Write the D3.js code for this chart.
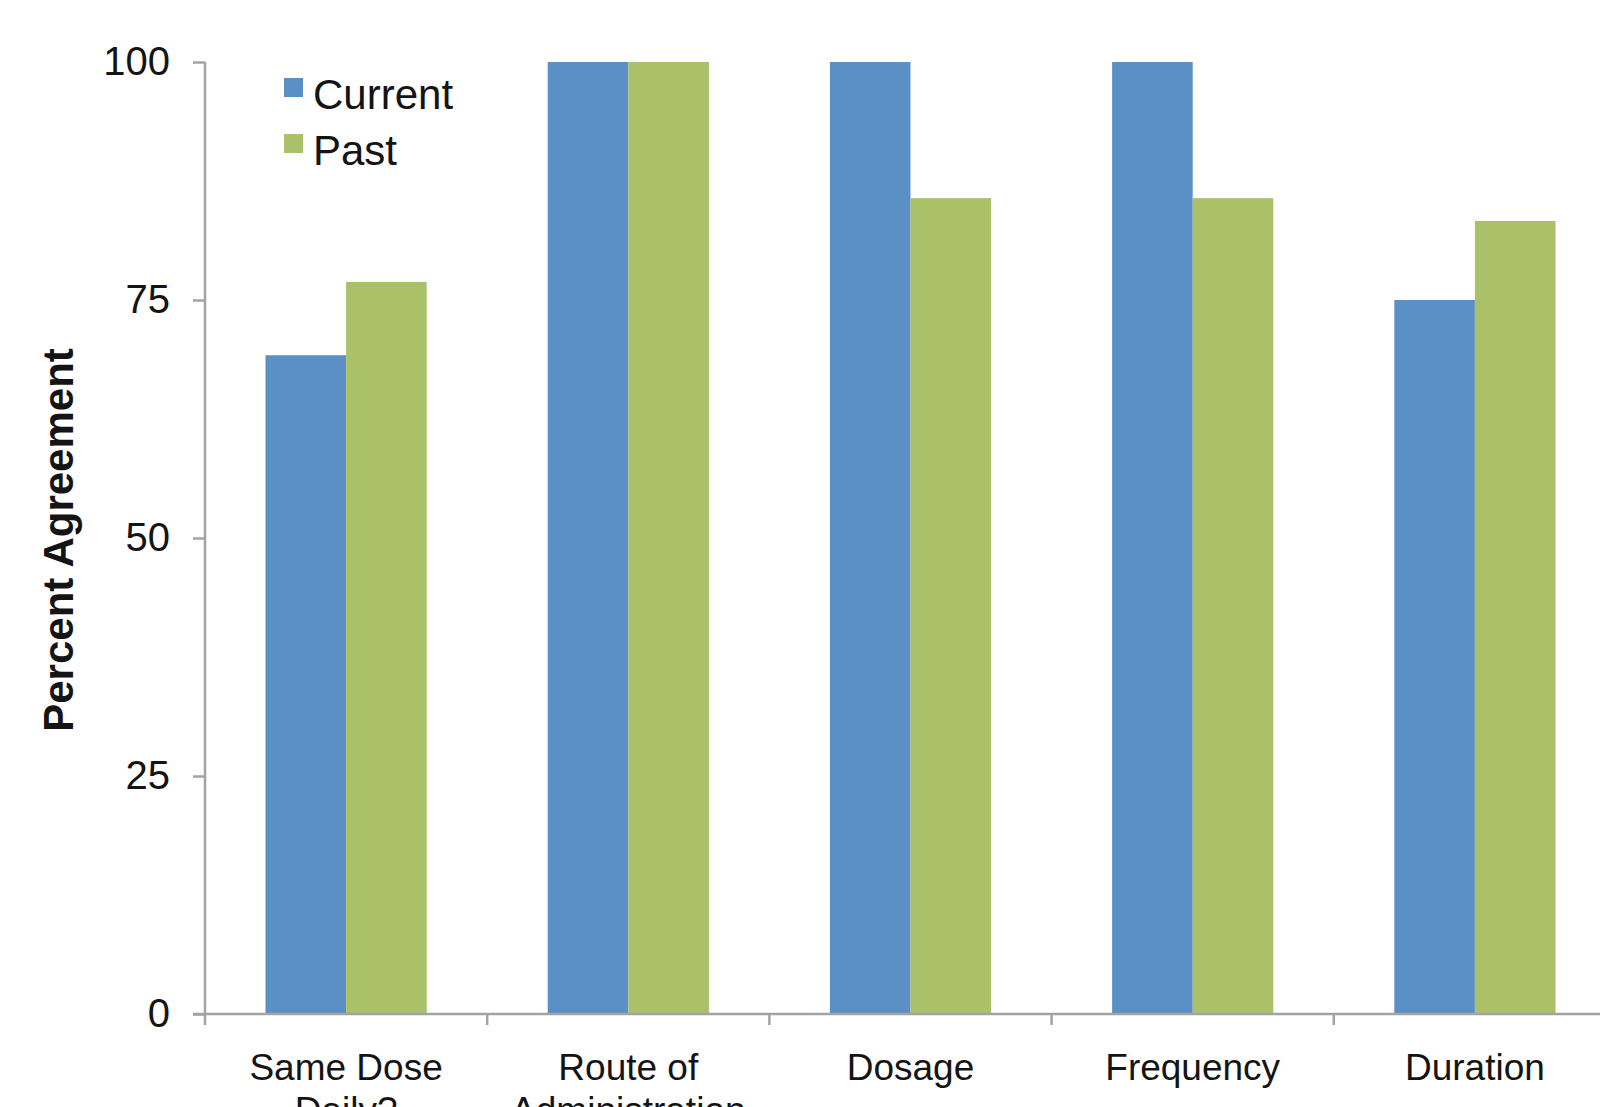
<!DOCTYPE html>
<html>
<head>
<meta charset="utf-8">
<script src="https://cdn.jsdelivr.net/npm/d3@7"></script>
<style>
  html, body { margin: 0; padding: 0; background: #fff; }
  svg { display: block; }
  text { font-family: "Liberation Sans", Arial, Helvetica, sans-serif; fill: #141414; }
</style>
</head>
<body>
<svg id="chart" width="1600" height="1107"></svg>
<script>
// Categories (multi-line labels) and agreement percentages per series
const categories = ["Same Dose Daily?", "Route of Administration", "Dosage", "Frequency", "Duration"];
const categoryLines = [["Same Dose", "Daily?"], ["Route of", "Administration"], ["Dosage"], ["Frequency"], ["Duration"]];
const seriesNames = ["Current", "Past"];
const currentValues = [69.2, 100, 100, 100, 75];
const pastValues = [76.9, 100, 85.7, 85.7, 83.3];
const yTicks = [0, 25, 50, 75, 100];
const colors = { Current: "#5b90c6", Past: "#aac16a" };

const rows = categories.map((c, i) => ({
  category: c,
  lines: categoryLines[i],
  values: [
    { series: "Current", value: currentValues[i] },
    { series: "Past", value: pastValues[i] }
  ]
}));

const svg = d3.select("#chart");
const axisX = 205, plotTop = 62, plotBottom = 1014;
const step = 282.2;
const axisColor = "#a3a3a3";

const y = d3.scaleLinear().domain([0, 100]).range([plotBottom, plotTop]);

const innerPad = 121 / step;
const x0 = d3.scaleBand()
  .domain(categories)
  .range([axisX, axisX + step * categories.length])
  .paddingInner(innerPad)
  .paddingOuter(innerPad / 2);

const x1 = d3.scaleBand()
  .domain(seriesNames)
  .range([0, x0.bandwidth()])
  .padding(0);

// Bars
const groups = svg.append("g")
  .selectAll("g")
  .data(rows)
  .join("g")
  .attr("transform", d => `translate(${x0(d.category)},0)`);

groups.selectAll("rect")
  .data(d => d.values)
  .join("rect")
  .attr("x", d => x1(d.series))
  .attr("y", d => y(d.value))
  .attr("width", x1.bandwidth())
  .attr("height", d => y(0) - y(d.value))
  .attr("fill", d => colors[d.series]);

// Y axis
const yAxis = svg.append("g")
  .attr("transform", `translate(${axisX},0)`)
  .call(d3.axisLeft(y).tickValues(yTicks).tickSize(12).tickPadding(23).tickFormat(d3.format("d")));
yAxis.select(".domain").attr("stroke", axisColor).attr("stroke-width", 2.5).attr("d", `M0,${plotTop}V${plotBottom}`);
yAxis.selectAll(".tick line").attr("stroke", axisColor).attr("stroke-width", 2.5);
yAxis.selectAll(".tick text")
  .attr("font-size", 40)
  .attr("font-family", "Liberation Sans, Arial, sans-serif")
  .attr("fill", "#141414");

// X axis baseline
svg.append("line")
  .attr("x1", axisX - 12).attr("x2", 1600)
  .attr("y1", y(0)).attr("y2", y(0))
  .attr("stroke", axisColor).attr("stroke-width", 2.5);

// Category boundary ticks
const gap = (x0.step() - x0.bandwidth()) / 2;
svg.append("g")
  .selectAll("line")
  .data(categories)
  .join("line")
  .attr("x1", d => x0(d) - gap).attr("x2", d => x0(d) - gap)
  .attr("y1", y(0)).attr("y2", y(0) + 11)
  .attr("stroke", axisColor).attr("stroke-width", 2.5);

// Category labels (second lines run past the bottom edge)
const labels = svg.append("g")
  .selectAll("text")
  .data(rows)
  .join("text")
  .attr("text-anchor", "middle")
  .attr("font-size", 37)
  .attr("x", d => x0(d.category) + x0.bandwidth() / 2)
  .attr("y", y(0) + 66);
labels.selectAll("tspan")
  .data(d => d.lines.map(l => ({ l, x: x0(d.category) + x0.bandwidth() / 2 })))
  .join("tspan")
  .attr("x", d => d.x)
  .attr("dy", (d, i) => i === 0 ? 0 : 43)
  .text(d => d.l);

// Y axis title
svg.append("text")
  .attr("transform", `translate(73,540) rotate(-90)`)
  .attr("text-anchor", "middle")
  .attr("font-size", 42)
  .attr("font-weight", "bold")
  .text("Percent Agreement");

// Legend
const legend = svg.append("g")
  .selectAll("g")
  .data(seriesNames)
  .join("g")
  .attr("transform", (d, i) => `translate(284,${78 + i * 56})`);
legend.append("rect")
  .attr("width", 19).attr("height", 19)
  .attr("fill", d => colors[d]);
legend.append("text")
  .attr("x", 29).attr("y", 31)
  .attr("font-size", 42)
  .text(d => d);
</script>
</body>
</html>
